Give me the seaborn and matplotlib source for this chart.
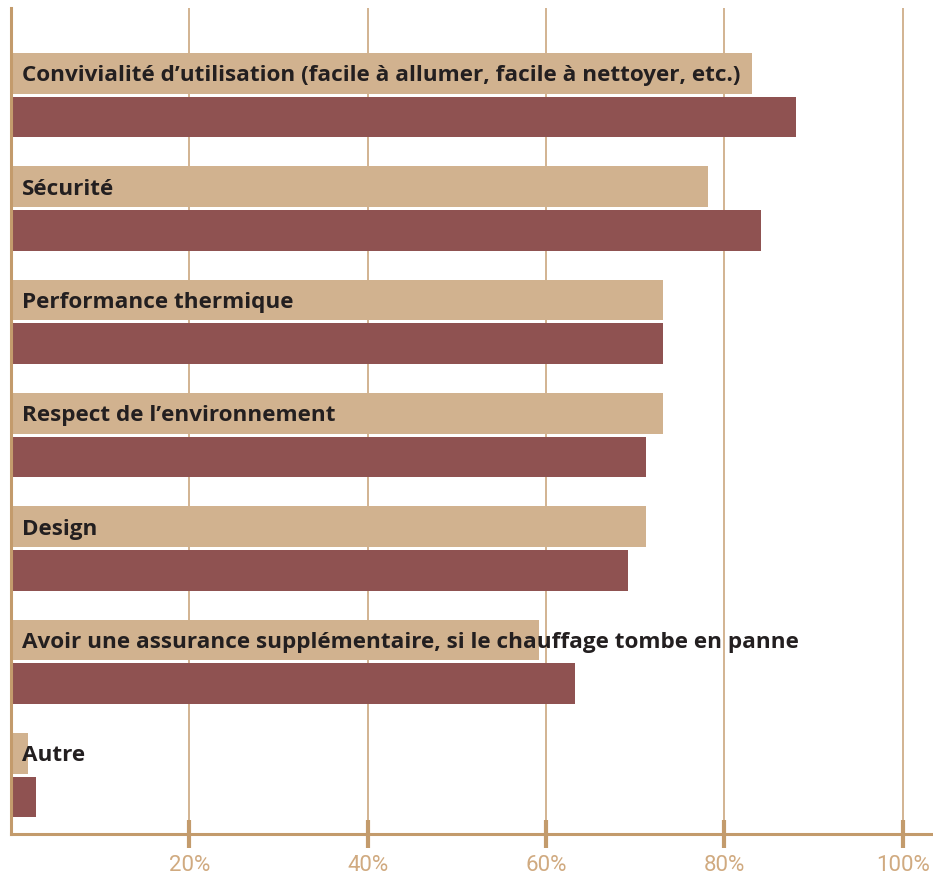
import matplotlib
matplotlib.use("Agg")
import matplotlib.pyplot as plt
import seaborn as sns
import pandas as pd

categories = [
    "Convivialité d’utilisation (facile à allumer, facile à nettoyer, etc.)",
    "Sécurité",
    "Performance thermique",
    "Respect de l’environnement",
    "Design",
    "Avoir une assurance supplémentaire, si le chauffage tombe en panne",
    "Autre",
]
series_names = ["Série 1", "Série 2"]
values_1 = [83.1, 78.2, 73.1, 73.1, 71.2, 59.2, 1.9]
values_2 = [88.0, 84.1, 73.1, 71.2, 69.2, 63.3, 2.8]
tick_values = [20, 40, 60, 80, 100]
tick_labels = ["20%", "40%", "60%", "80%", "100%"]

tan = "#d1b28f"
maroon = "#8f5251"
axis_col = "#c39b6c"

df = pd.DataFrame({
    "cat": categories * 2,
    "serie": [series_names[0]] * len(categories) + [series_names[1]] * len(categories),
    "val": values_1 + values_2,
})

sns.set_style("white")
plt.rcParams["font.family"] = ["Open Sans", "DejaVu Sans"]

fig = plt.figure(figsize=(9.33, 8.77), dpi=100)
ax = fig.add_axes([11 / 933, 1 - 834 / 877, 1 - 11 / 933, (834 - 8) / 877])

sns.barplot(data=df, x="val", y="cat", hue="serie", hue_order=series_names,
            palette=[tan, maroon], orient="h", width=0.77, gap=0.07,
            saturation=1, legend=False, ax=ax, errorbar=None, linewidth=0)

ax.set_xlim(0, 103.4)
ax.set_ylim(6.52, -0.77)

ax.set_axisbelow(True)
ax.grid(axis="x", color="#cfae89", linewidth=1.3)
ax.grid(axis="y", visible=False)

for s in ["top", "right"]:
    ax.spines[s].set_visible(False)
for s in ["left", "bottom"]:
    ax.spines[s].set_color(axis_col)
    ax.spines[s].set_linewidth(2.2)

ax.set_xticks(tick_values)
ax.set_xticklabels(tick_labels)
ax.set_yticks([])
ax.tick_params(axis="x", bottom=True, direction="inout", length=20, width=3,
               color=axis_col, labelcolor="#d0aa80", labelsize=16, pad=5)
for t in ax.get_xticklabels():
    t.set_fontfamily(["Roboto", "DejaVu Sans"])
    t.set_fontweight("normal")

ax.set_xlabel("")
ax.set_ylabel("")

for i, c in enumerate(categories):
    ax.text(1.23, i - 0.17, c, va="center", ha="left", fontsize=16.2,
            fontweight="bold", color="#231f20")

fig.savefig("out.png", dpi=100)
